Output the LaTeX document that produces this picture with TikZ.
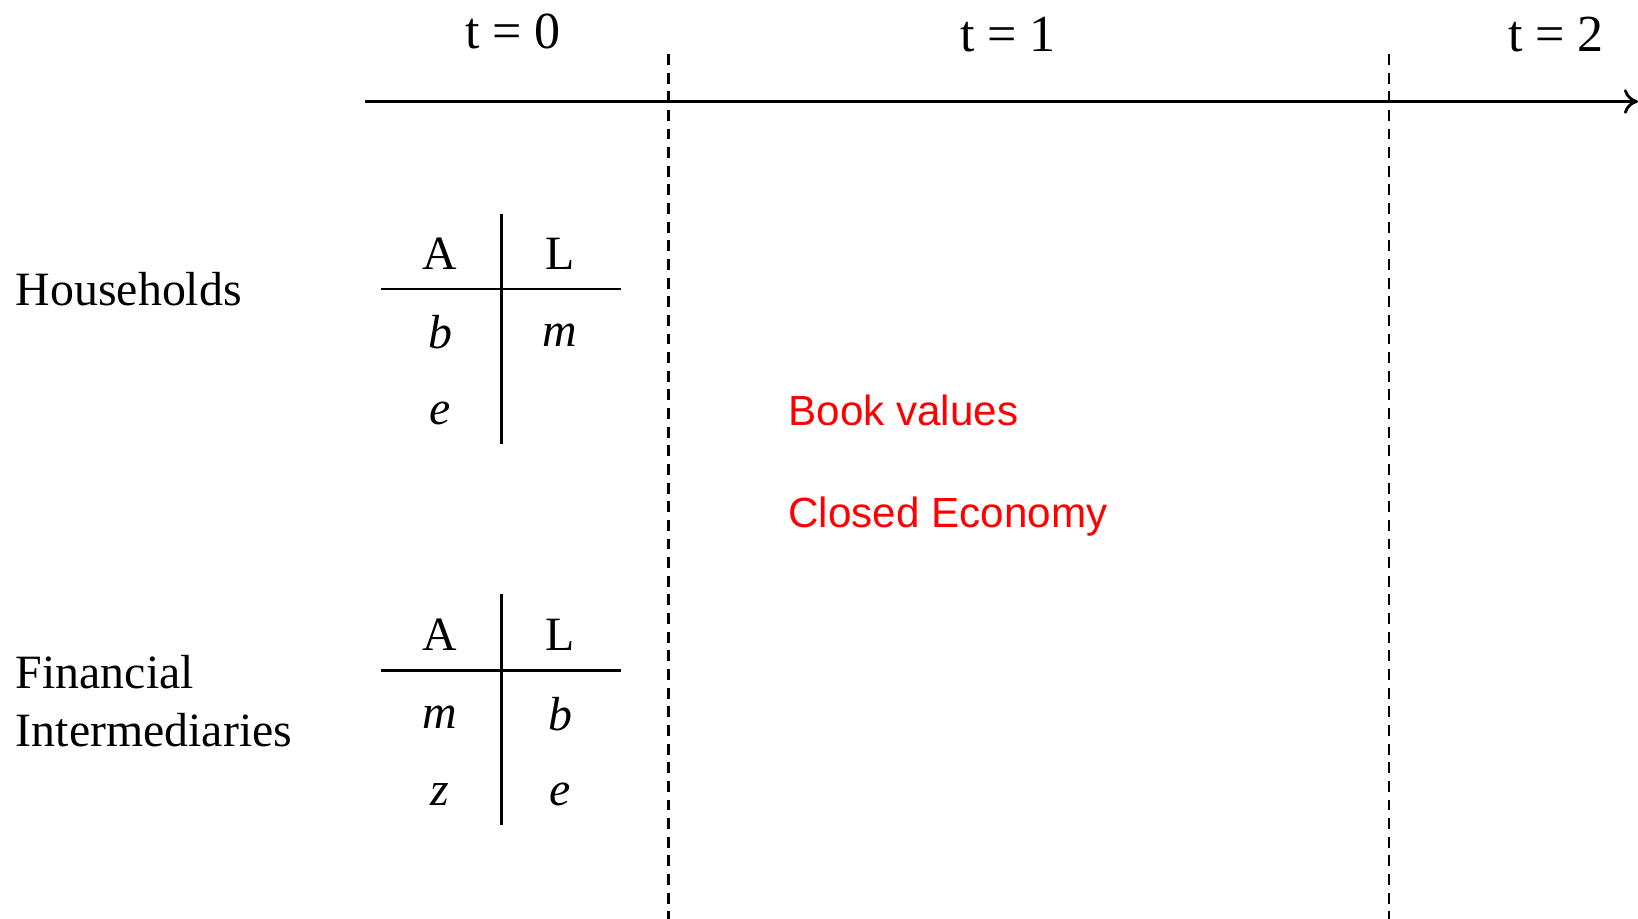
\documentclass[tikz,border=0pt]{standalone}
\usepackage{fontspec}
\setmainfont{Liberation Serif}
\newfontfamily\notefont{Liberation Sans}
\usepackage{xcolor}
\usetikzlibrary{arrows.meta}

\begin{document}
\begin{tikzpicture}[x=0.01cm,y=-0.01cm,
    entry/.style={font=\fontsize{13.6}{16.3}\selectfont},
    period/.style={font=\fontsize{14.8}{17}\selectfont},
    note/.style={font=\notefont\fontsize{12}{14}\selectfont, red, anchor=west},
    divider/.style={dash pattern=on 3.1pt off 2.2pt, line width=0.7pt}]
    \useasboundingbox (0,0) rectangle (1638,919);
    \coordinate (axisstart) at (365,101.5);
    \coordinate (axisend) at (1638,101.5);
    \draw[line width=0.8pt,-{To[length=4pt,width=7pt]}] (axisstart) -- (axisend);
    \draw[divider] (668.5,54) -- (668.5,919);
    \draw[divider] (1389,54) -- (1389,919);
    \node[period] (t0) at (513,31) {t = 0};
    \node[period] (t1) at (1008,35) {t = 1};
    \node[period] (t2) at (1556,35) {t = 2};
    \node[entry, anchor=west] (hh) at (3.5,289) {Households};
    \node[entry, anchor=west, align=left] (fi) at (3.5,701) {Financial\\Intermediaries};
    \draw[line width=0.8pt] (501.5,214) -- (501.5,444);
    \draw[line width=0.8pt] (381,289) -- (620.5,289);
    \draw[line width=0.8pt] (501.5,594) -- (501.5,825);
    \draw[line width=0.8pt] (381,670.5) -- (620.5,670.5);
    \node[entry] (hhA) at (440,254) {A};
    \node[entry] (hhL) at (560,254) {L};
    \node[entry] (hhb) at (440,332) {\textit{b}};
    \node[entry] (hhm) at (560,335) {\textit{m}};
    \node[entry] (hhe) at (440,413) {\textit{e}};
    \node[entry] (fiA) at (440,635) {A};
    \node[entry] (fiL) at (560,635) {L};
    \node[entry] (fim) at (440,717) {\textit{m}};
    \node[entry] (fib) at (560,714) {\textit{b}};
    \node[entry] (fiz) at (440,795) {\textit{z}};
    \node[entry] (fie) at (560,794) {\textit{e}};
    \node[note] (book) at (776,410) {Book values};
    \node[note] (closed) at (776,517) {Closed Economy};
\end{tikzpicture}
\end{document}
